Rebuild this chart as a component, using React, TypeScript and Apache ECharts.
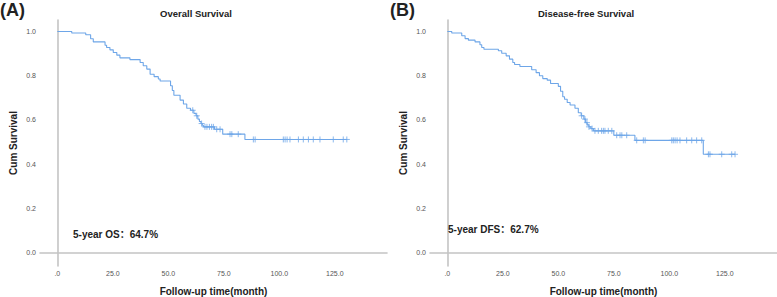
import React, { useEffect, useRef } from "react";
import * as echarts from "echarts";

// ---- Data ----
const X_TICKS = [0, 25, 50, 75, 100, 125];
const Y_TICKS = [0, 0.2, 0.4, 0.6, 0.8, 1.0];

// Overall survival: event times (month) and survival after each event
const OS_TIMES = [0, 6.5, 12.8, 15.0, 16.2, 21.5, 22.2, 23.7, 25.2, 26.8, 28.2, 32.7, 37.3, 38.7, 40.3, 41.8, 43.6, 45.5, 46.3, 51.0, 51.8, 52.5, 55.3, 56.8, 58.3, 60.0, 61.5, 62.5, 63.3, 64.0, 64.7, 65.3, 65.8, 70.8, 74.5, 84.5];
const OS_SURV = [1.0, 0.993, 0.985, 0.967, 0.953, 0.938, 0.928, 0.917, 0.905, 0.893, 0.881, 0.873, 0.86, 0.845, 0.83, 0.807, 0.796, 0.785, 0.776, 0.755, 0.733, 0.712, 0.69, 0.672, 0.653, 0.644, 0.63, 0.619, 0.604, 0.593, 0.584, 0.576, 0.569, 0.558, 0.536, 0.512];
const OS_CENSOR = [61.0, 62.8, 65.0, 66.5, 67.4, 68.5, 69.5, 70.3, 71.8, 73.3, 77.8, 78.6, 81.5, 88.3, 89.1, 101.8, 102.6, 103.5, 104.8, 108.6, 110.8, 113.1, 115.3, 118.3, 124.3, 128.8, 130.4];

// Disease-free survival
const DFS_TIMES = [0, 2.0, 6.5, 8.0, 9.5, 12.5, 14.7, 15.5, 16.5, 23.0, 24.5, 26.5, 28.0, 29.5, 30.3, 32.7, 38.0, 40.0, 41.5, 43.0, 45.0, 46.5, 50.0, 51.0, 52.0, 52.8, 54.0, 55.3, 57.5, 59.0, 60.3, 61.5, 62.3, 63.0, 63.8, 64.7, 65.8, 75.0, 84.5, 115.3];
const DFS_SURV = [1.0, 0.993, 0.981, 0.968, 0.961, 0.953, 0.94, 0.928, 0.92, 0.913, 0.902, 0.89, 0.875, 0.86, 0.851, 0.842, 0.827, 0.814, 0.8, 0.787, 0.78, 0.765, 0.752, 0.73, 0.705, 0.694, 0.679, 0.668, 0.653, 0.633, 0.619, 0.604, 0.588, 0.578, 0.569, 0.561, 0.551, 0.531, 0.508, 0.445];
const DFS_CENSOR = [60.5, 62.0, 62.9, 63.8, 65.2, 66.5, 68.0, 69.5, 70.3, 71.0, 72.5, 74.1, 76.3, 77.8, 78.6, 80.8, 85.3, 88.3, 89.1, 101.1, 101.8, 102.6, 103.5, 104.8, 107.8, 110.1, 112.3, 114.6, 117.6, 118.3, 123.6, 128.1, 129.6];

const BLUE = "#6ea6e8";
const FONT = "'Liberation Sans', Arial, 'Noto Sans CJK SC', sans-serif";

function survAt(times: number[], surv: number[], t: number): number {
  let s = surv[0];
  for (let i = 0; i < times.length; i++) {
    if (times[i] <= t) s = surv[i];
  }
  return s;
}

function curveData(times: number[], surv: number[], censor: number[]) {
  const pts = times.map((t, i) => [t, surv[i]]);
  const lastT = Math.max(...censor);
  pts.push([lastT, survAt(times, surv, lastT)]);
  return pts;
}

function censorData(times: number[], surv: number[], censor: number[]) {
  return censor.map((t) => [t, survAt(times, surv, t)]);
}

const X_MIN = -7.8;
const X_MAX = 148.5;
const Y_MIN = -0.06;
const Y_MAX = 1.052;

function xAxis(gridIndex: number) {
  return {
    type: "value",
    gridIndex,
    min: X_MIN,
    max: X_MAX,
    name: "Follow-up time(month)",
    nameLocation: "middle",
    nameGap: 20,
    nameTextStyle: { fontFamily: FONT, fontSize: 10, fontWeight: "bold", color: "#222" },
    axisLine: { show: true, lineStyle: { color: "#c4c4c4", width: 1.6 } },
    axisTick: { show: false },
    splitLine: { show: false },
    axisLabel: {
      customValues: X_TICKS,
      formatter: (v: number) => (v === 0 ? ".0" : v.toFixed(1)),
      fontFamily: FONT,
      fontSize: 7,
      color: "#555",
      margin: 4,
    },
  };
}

function yAxis(gridIndex: number) {
  return {
    type: "value",
    gridIndex,
    min: Y_MIN,
    max: Y_MAX,
    name: "Cum Survival",
    nameLocation: "middle",
    nameGap: 22,
    nameTextStyle: { fontFamily: FONT, fontSize: 10, fontWeight: "bold", color: "#222" },
    axisLine: { show: true, lineStyle: { color: "#c4c4c4", width: 1.6 } },
    axisTick: { show: false },
    splitLine: { show: false },
    axisLabel: {
      customValues: Y_TICKS,
      formatter: (v: number) => v.toFixed(1),
      fontFamily: FONT,
      fontSize: 7,
      color: "#555",
      margin: 4,
    },
  };
}

const PLUS = "path://M5,0L5,10M0,5L10,5";

function seriesFor(idx: number, times: number[], surv: number[], censor: number[]) {
  return [
    {
      type: "line",
      xAxisIndex: idx,
      yAxisIndex: idx,
      step: "end",
      data: curveData(times, surv, censor),
      showSymbol: false,
      symbol: "none",
      lineStyle: { color: BLUE, width: 1.1 },
      silent: true,
      z: 2,
    },
    {
      type: "scatter",
      xAxisIndex: idx,
      yAxisIndex: idx,
      data: censorData(times, surv, censor),
      symbol: PLUS,
      symbolSize: 6,
      itemStyle: { color: BLUE, borderColor: BLUE, borderWidth: 1 },
      silent: true,
      z: 2,
    },
  ];
}

function text(x: number, y: number, t: string, size: number, align: string) {
  return {
    type: "text",
    x,
    y,
    z: 100,
    silent: true,
    style: {
      text: t,
      fontFamily: FONT,
      fontSize: size,
      fontWeight: "bold",
      fill: "#222",
      textAlign: align,
      textVerticalAlign: "middle",
    },
  };
}

export default function App() {
  const ref = useRef<HTMLDivElement>(null);
  useEffect(() => {
    if (!ref.current) return;
    const chart = echarts.init(ref.current, undefined, { renderer: "svg" });
    chart.setOption({
      animation: false,
      backgroundColor: "#ffffff",
      grid: [
        { left: 40, top: 20, width: 347, height: 246, outerBoundsMode: "none", containLabel: false },
        { left: 430, top: 20, width: 347, height: 246, outerBoundsMode: "none", containLabel: false },
      ],
      xAxis: [xAxis(0), xAxis(1)],
      yAxis: [yAxis(0), yAxis(1)],
      series: [
        ...seriesFor(0, OS_TIMES, OS_SURV, OS_CENSOR),
        ...seriesFor(1, DFS_TIMES, DFS_SURV, DFS_CENSOR),
      ],
      graphic: [
        text(0, 10, "(A)", 18, "left"),
        text(390, 10, "(B)", 18, "left"),
        text(196, 13, "Overall Survival", 9.5, "center"),
        text(586, 13, "Disease-free Survival", 9.5, "center"),
        text(73, 234, "5-year OS：64.7%", 10, "left"),
        text(448, 229, "5-year DFS：62.7%", 10, "left"),
      ],
    });
    return () => chart.dispose();
  }, []);
  return (
    <div
      ref={ref}
      style={{ position: "absolute", left: 0, top: 0, width: 777, height: 297 }}
    />
  );
}
